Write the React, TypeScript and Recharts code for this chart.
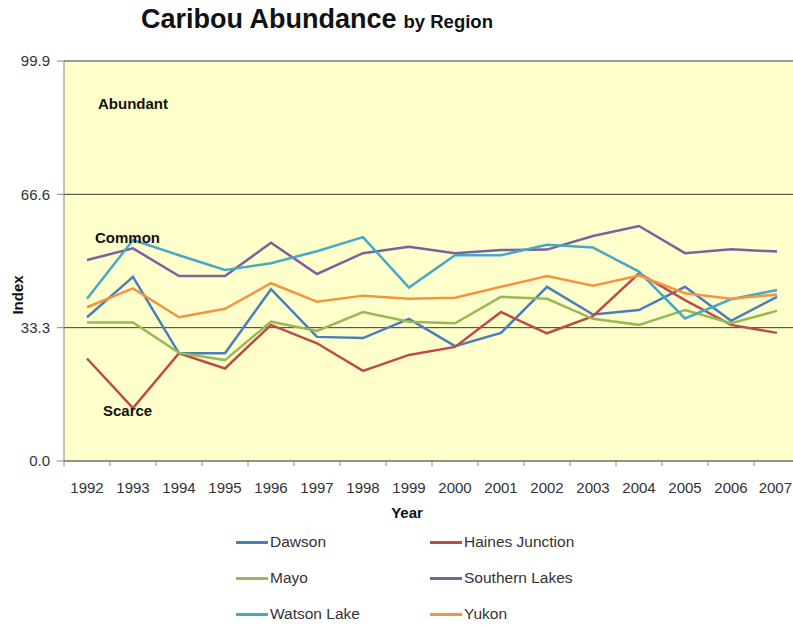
import React from "react";
import { LineChart, Line, XAxis, YAxis, CartesianGrid, ReferenceDot } from "recharts";

const years = ["1992", "1993", "1994", "1995", "1996", "1997", "1998", "1999", "2000", "2001", "2002", "2003", "2004", "2005", "2006", "2007"];

const dawson = [35.9, 46.0, 26.9, 26.9, 42.9, 31.0, 30.7, 35.5, 28.7, 32.0, 43.5, 36.6, 37.7, 43.5, 35.0, 41.0];
const hainesJunction = [25.6, 13.2, 26.9, 23.1, 34.0, 29.4, 22.5, 26.5, 28.5, 37.2, 31.9, 36.2, 46.9, 40.2, 34.0, 32.0];
const mayo = [34.6, 34.6, 27.0, 25.2, 34.8, 32.5, 37.2, 34.8, 34.4, 41.0, 40.5, 35.5, 34.0, 37.7, 34.4, 37.5];
const southernLakes = [50.2, 53.1, 46.2, 46.2, 54.5, 46.7, 51.9, 53.5, 51.9, 52.7, 52.8, 56.2, 58.7, 51.9, 52.9, 52.3];
const watsonLake = [40.5, 55.2, 51.4, 47.7, 49.4, 52.4, 55.9, 43.3, 51.4, 51.4, 54.0, 53.3, 47.3, 35.6, 40.4, 42.7];
const yukon = [38.4, 43.1, 35.9, 38.0, 44.4, 39.8, 41.3, 40.5, 40.8, 43.5, 46.2, 43.8, 46.3, 41.9, 40.5, 41.6];

const yTicks = [0, 33.3, 66.6, 99.9];

const series = [
  { key: "dawson", name: "Dawson", color: "#4a7ebb", values: dawson },
  { key: "haines", name: "Haines Junction", color: "#be4b48", values: hainesJunction },
  { key: "mayo", name: "Mayo", color: "#98b954", values: mayo },
  { key: "southern", name: "Southern Lakes", color: "#7d60a0", values: southernLakes },
  { key: "watson", name: "Watson Lake", color: "#46aac5", values: watsonLake },
  { key: "yukon", name: "Yukon", color: "#f69240", values: yukon },
];

const data = years.map((year, i) => {
  const row: Record<string, string | number> = { year };
  series.forEach((s) => {
    row[s.key] = s.values[i];
  });
  return row;
});

const FONT = "Arial, 'Liberation Sans', sans-serif";
const CHART_W = 810;
const CHART_H = 530;
const MARGIN = { top: 61, right: 10, bottom: 9, left: 8 };
const Y_AXIS_W = 56;
const BAND = (CHART_W - MARGIN.left - MARGIN.right - Y_AXIS_W) / years.length;

// Excel-style category axis: tick marks sit between categories
const YearTick = (props: any) => {
  const { x, y, payload, index } = props;
  const half = BAND / 2;
  const last = index === years.length - 1;
  return (
    <g>
      <line x1={x - half} x2={x - half} y1={y} y2={y + 5} stroke="#868686" />
      {last && <line x1={x + half} x2={x + half} y1={y} y2={y + 5} stroke="#868686" />}
      <text x={last ? 792 : x} y={y + 32} textAnchor={last ? "end" : "middle"} fontSize={15} fill="#333" fontFamily={FONT}>
        {payload.value}
      </text>
    </g>
  );
};

const YearLabel = () => (
  <text x={407} y={518} textAnchor="middle" fontSize={15} fontWeight="bold" fill="#111" fontFamily={FONT}>
    Year
  </text>
);

const IndexLabel = () => (
  <text x={23} y={295} textAnchor="middle" fontSize={15} fontWeight="bold" fill="#111" fontFamily={FONT} transform="rotate(-90 23 295)">
    Index
  </text>
);

const zoneLabel = (value: string, offset: number) => ({
  value,
  position: "right" as const,
  offset,
  fontSize: 15,
  fontWeight: "bold",
  fill: "#111",
  fontFamily: FONT,
});

export default function App() {
  return (
    <div style={{ position: "absolute", left: 0, top: 0, width: 793, height: 627, overflow: "hidden", background: "#fff", fontFamily: FONT }}>
      <div style={{ position: "absolute", left: 141, top: 6, whiteSpace: "nowrap", lineHeight: 1, fontWeight: "bold", color: "#111" }}>
        <span style={{ fontSize: 27 }}>Caribou Abundance</span>
        <span style={{ fontSize: 18.5, marginLeft: 7 }}>by Region</span>
      </div>

      <div style={{ position: "absolute", left: 0, top: 0 }}>
        <LineChart width={CHART_W} height={CHART_H} data={data} margin={MARGIN}>
          <CartesianGrid vertical={false} stroke="#3a3a3a" fill="#ffffcc" fillOpacity={1} />
          <XAxis
            dataKey="year"
            scale="band"
            height={60}
            interval={0}
            tickLine={false}
            tickSize={0}
            tickMargin={0}
            axisLine={{ stroke: "#868686" }}
            tick={<YearTick />}
            label={<YearLabel />}
          />
          <YAxis
            width={Y_AXIS_W}
            domain={[0, 99.9]}
            ticks={yTicks}
            interval={0}
            tickFormatter={(v: number) => v.toFixed(1)}
            tickSize={7}
            tickMargin={7}
            tickLine={{ stroke: "#868686" }}
            axisLine={{ stroke: "#868686" }}
            tick={{ fontSize: 15, fill: "#333", fontFamily: FONT }}
            label={<IndexLabel />}
          />
          <ReferenceDot x="1992" y={89.2} r={0} fill="none" stroke="none" label={zoneLabel("Abundant", 11)} />
          <ReferenceDot x="1992" y={55.7} r={0} fill="none" stroke="none" label={zoneLabel("Common", 8)} />
          <ReferenceDot x="1992" y={12.5} r={0} fill="none" stroke="none" label={zoneLabel("Scarce", 16)} />
          {series.map((s) => (
            <Line
              key={s.key}
              type="linear"
              dataKey={s.key}
              name={s.name}
              stroke={s.color}
              strokeWidth={2.5}
              dot={false}
              activeDot={false}
              isAnimationActive={false}
            />
          ))}
        </LineChart>
      </div>

      {series.map((s, i) => {
        const col = i % 2;
        const row = Math.floor(i / 2);
        const left = col === 0 ? 236 : 430;
        const top = 542 + row * 36;
        return (
          <div key={s.key} style={{ position: "absolute", left, top: top - 10, height: 20, display: "flex", alignItems: "center", whiteSpace: "nowrap" }}>
            <span style={{ display: "inline-block", width: 32, height: 3, background: s.color, marginRight: 2 }} />
            <span style={{ fontSize: 15.5, color: "#333" }}>{s.name}</span>
          </div>
        );
      })}
    </div>
  );
}
